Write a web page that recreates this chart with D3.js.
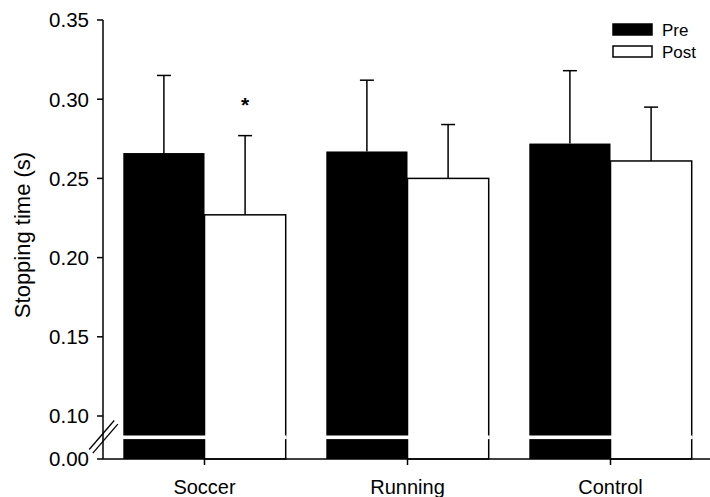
<!DOCTYPE html>
<html>
<head>
<meta charset="utf-8">
<script src="https://cdn.jsdelivr.net/npm/d3@7/dist/d3.min.js"></script>
<style>
  html, body { margin: 0; padding: 0; background: #fff; }
  svg { display: block; }
  text { font-family: "Liberation Sans", Arial, sans-serif; fill: #000; }
</style>
</head>
<body>
<svg id="chart" width="710" height="497"></svg>
<script>
// ---- data ----
const categories = ["Soccer", "Running", "Control"];
const series = ["Pre", "Post"];
const preMeans = [0.266, 0.267, 0.272];
const preSD    = [0.049, 0.045, 0.046];
const postMeans = [0.227, 0.250, 0.261];
const postSD    = [0.050, 0.034, 0.034];
const yTicks = [0.10, 0.15, 0.20, 0.25, 0.30, 0.35];
const yLowTicks = [0.00];
const significant = [{ category: "Soccer", series: "Post", label: "*" }];
const yTitle = "Stopping time (s)";

const rows = [];
categories.forEach((c, i) => {
  rows.push({ category: c, series: "Pre", mean: preMeans[i], sd: preSD[i] });
  rows.push({ category: c, series: "Post", mean: postMeans[i], sd: postSD[i] });
});

// ---- layout ----
const svg = d3.select("#chart");
const left = 103, right = 712;
const topY = 20, tenY = 416;      // positions of 0.35 and 0.10
const breakY = 437.3, breakH = 3.6;
const baseY = 459;                // position of 0.00

const x0 = d3.scaleBand().domain(categories).range([left, right])
  .paddingInner(0.2).paddingOuter(0.1);
const x1 = d3.scaleBand().domain(series).range([0, x0.bandwidth()]);
const y = d3.scaleLinear().domain([0.10, 0.35]).range([tenY, topY]);
const yLow = d3.scaleLinear().domain([0, 0.10]).range([baseY, baseY - 220]);

const fill = { Pre: "#000", Post: "#fff" };
const sw = 1.5;

// bars
const g = svg.append("g");
g.selectAll("rect.bar").data(rows).enter().append("rect")
  .attr("class", "bar")
  .attr("x", d => x0(d.category) + x1(d.series))
  .attr("width", x1.bandwidth())
  .attr("y", d => y(d.mean))
  .attr("height", d => yLow(0) - y(d.mean))
  .attr("fill", d => fill[d.series])
  .attr("stroke", "#000")
  .attr("stroke-width", d => d.series === "Post" ? sw : 0);

// error bars (upper only)
const eb = g.selectAll("g.err").data(rows).enter().append("g").attr("class", "err");
eb.append("line")
  .attr("x1", d => x0(d.category) + x1(d.series) + x1.bandwidth() / 2)
  .attr("x2", d => x0(d.category) + x1(d.series) + x1.bandwidth() / 2)
  .attr("y1", d => y(d.mean))
  .attr("y2", d => y(d.mean + d.sd))
  .attr("stroke", "#000").attr("stroke-width", sw);
eb.append("line")
  .attr("x1", d => x0(d.category) + x1(d.series) + x1.bandwidth() / 2 - 7)
  .attr("x2", d => x0(d.category) + x1(d.series) + x1.bandwidth() / 2 + 7)
  .attr("y1", d => y(d.mean + d.sd))
  .attr("y2", d => y(d.mean + d.sd))
  .attr("stroke", "#000").attr("stroke-width", sw);

// break gaps in bars
g.selectAll("rect.gap").data(categories).enter().append("rect")
  .attr("class", "gap")
  .attr("x", d => x0(d) - 1)
  .attr("width", x0.bandwidth() + 2)
  .attr("y", breakY - breakH / 2)
  .attr("height", breakH)
  .attr("fill", "#fff");

// significance
g.selectAll("text.sig").data(significant).enter().append("text")
  .attr("class", "sig")
  .attr("x", d => x0(d.category) + x1(d.series) + x1.bandwidth() / 2)
  .attr("y", d => { const r = rows.find(q => q.category === d.category && q.series === d.series); return y(r.mean + r.sd) - 24; })
  .attr("text-anchor", "middle")
  .attr("font-size", 21)
  .attr("font-weight", "bold")
  .text(d => d.label);

// y axis
const yAxisG = svg.append("g").attr("transform", `translate(${left},0)`);
yAxisG.append("line").attr("x1", 0).attr("x2", 0).attr("y1", topY).attr("y2", baseY)
  .attr("stroke", "#000").attr("stroke-width", sw);
const yt = yAxisG.selectAll("g.yt").data(yTicks).enter().append("g").attr("transform", d => `translate(0,${y(d)})`);
yt.append("line").attr("x1", -6).attr("x2", 0).attr("stroke", "#000").attr("stroke-width", sw);
yt.append("text").attr("x", -14).attr("dy", "0.36em").attr("text-anchor", "end")
  .attr("font-size", 20.5).text(d => d3.format(".2f")(d));
const ytl = yAxisG.selectAll("g.ytl").data(yLowTicks).enter().append("g").attr("transform", d => `translate(0,${yLow(d)})`);
ytl.append("line").attr("x1", -6).attr("x2", 0).attr("stroke", "#000").attr("stroke-width", sw);
ytl.append("text").attr("x", -14).attr("dy", "0.36em").attr("text-anchor", "end")
  .attr("font-size", 20.5).text(d => d3.format(".2f")(d));

// axis break marks
const bx = left, by = breakY;
[-1.8, 1.8].forEach(off => {
  svg.append("line")
    .attr("x1", bx - 12 + off).attr("y1", by + 14 + off)
    .attr("x2", bx + 13 + off).attr("y2", by - 15 + off)
    .attr("stroke", "#000").attr("stroke-width", 1.3);
});

// x axis
const xAxisG = svg.append("g").attr("transform", `translate(0,${baseY})`);
xAxisG.append("line").attr("x1", left).attr("x2", right).attr("stroke", "#000").attr("stroke-width", sw);
const xt = xAxisG.selectAll("g.xt").data(categories).enter().append("g")
  .attr("transform", d => `translate(${x0(d) + x0.bandwidth() / 2},0)`);
xt.append("line").attr("y1", 0).attr("y2", 6).attr("stroke", "#000").attr("stroke-width", sw);
xt.append("text").attr("y", 35).attr("text-anchor", "middle").attr("font-size", 20).text(d => d);

// y title
svg.append("text")
  .attr("transform", `translate(30,${235}) rotate(-90)`)
  .attr("text-anchor", "middle").attr("font-size", 22).text(yTitle);

// legend
const lg = svg.append("g").attr("transform", "translate(613,24)");
const li = lg.selectAll("g.li").data(series).enter().append("g").attr("transform", (d, i) => `translate(0,${i * 22})`);
li.append("rect").attr("width", 39).attr("height", 11)
  .attr("fill", d => fill[d]).attr("stroke", "#000").attr("stroke-width", sw);
li.append("text").attr("x", 49).attr("y", 5.5).attr("dy", "0.36em").attr("font-size", 17).text(d => d);
</script>
</body>
</html>
